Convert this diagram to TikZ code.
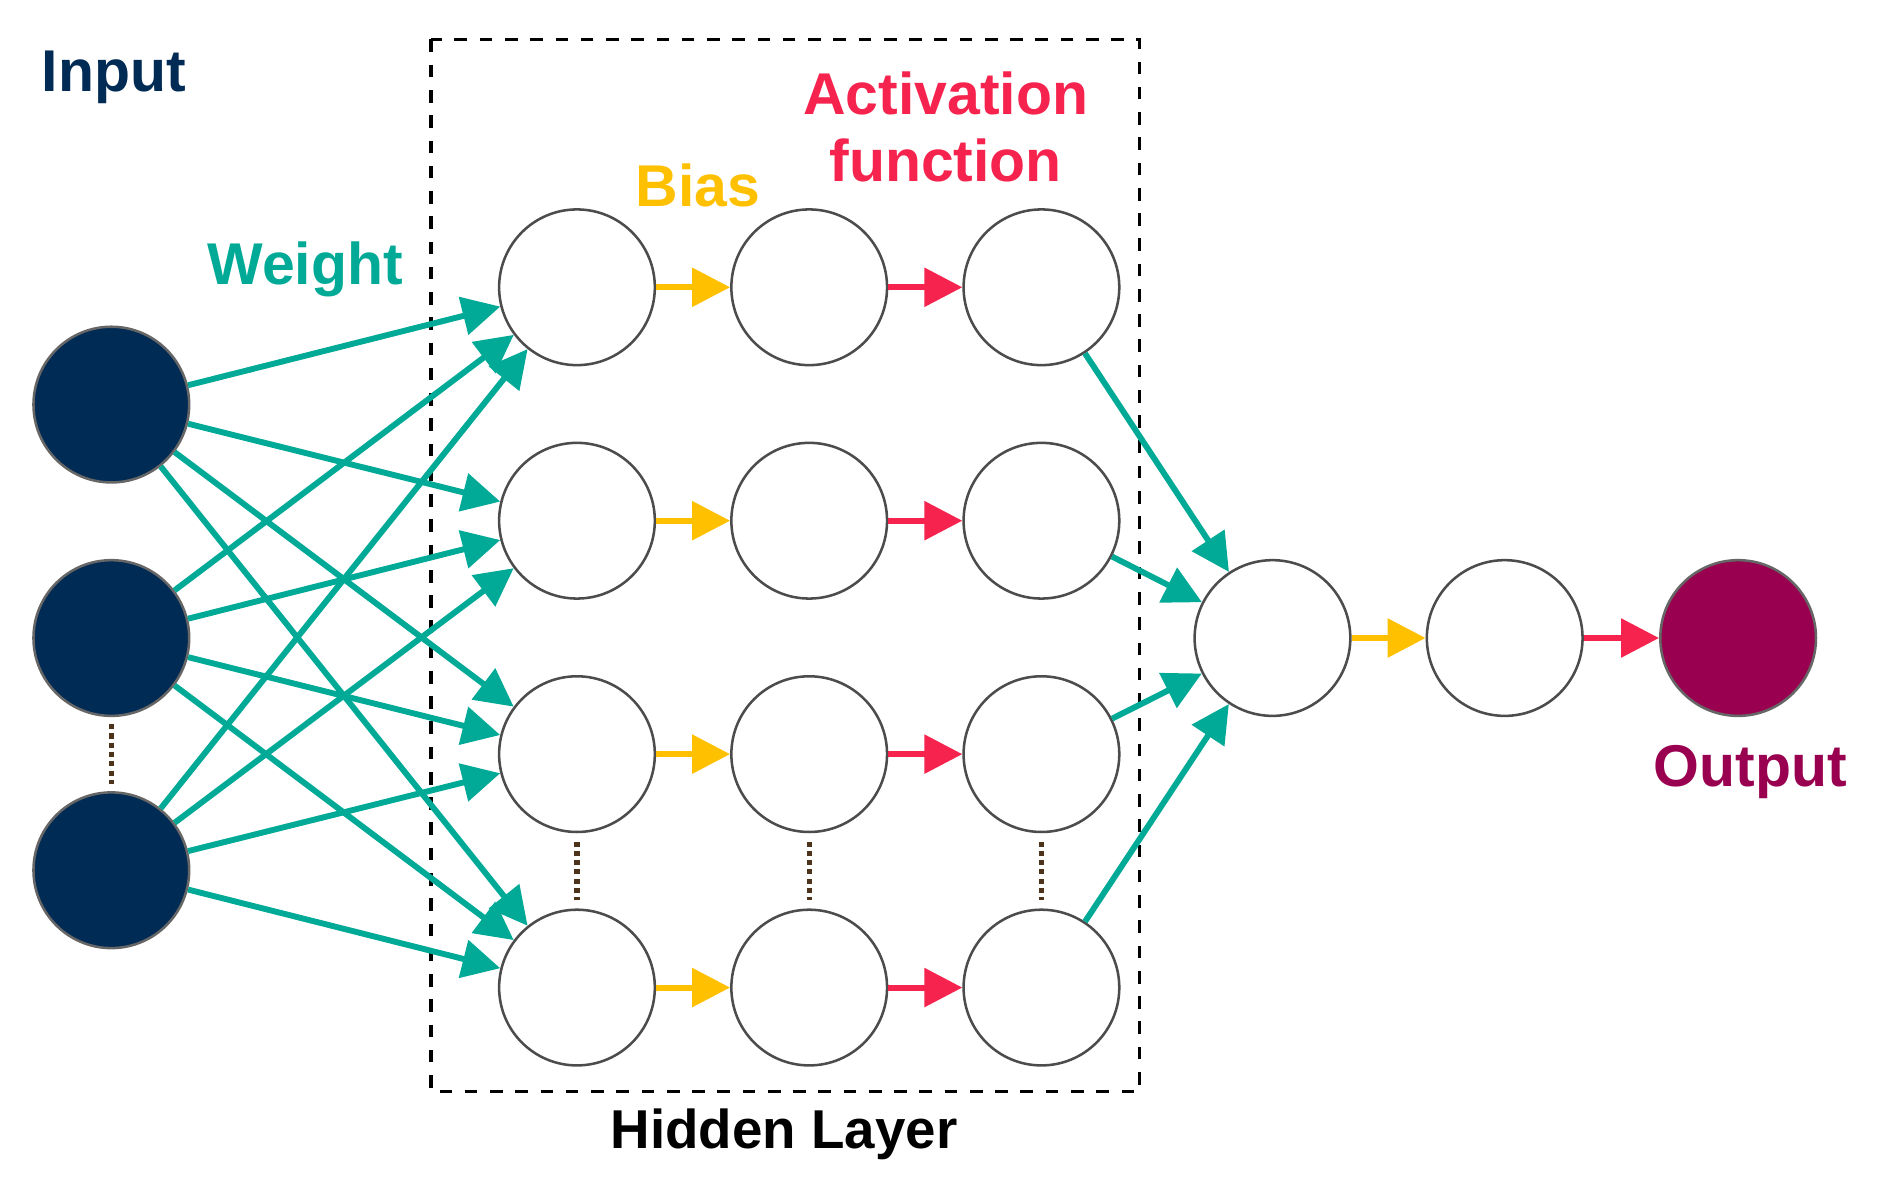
\documentclass[tikz,border=0pt]{standalone}
\usepackage{fontspec}
\setmainfont{Liberation Sans}
\usetikzlibrary{arrows.meta}
\definecolor{navy}{RGB}{0,43,85}
\definecolor{teal}{RGB}{0,170,150}
\definecolor{bias}{RGB}{255,192,0}
\definecolor{act}{RGB}{245,35,77}
\definecolor{outc}{RGB}{153,0,80}
\begin{document}
\begin{tikzpicture}[x=0.01cm,y=-0.01cm,
  neuron/.style={circle,draw=black!70,line width=0.6pt,minimum size=1.3cm,inner sep=0pt,fill=white},
  inp/.style={neuron,fill=navy,draw=black!60},
  warr/.style={teal,line width=1.4pt,-{Triangle[length=9pt,width=9pt]}},
  barr/.style={bias,line width=1.4pt,-{Triangle[length=9pt,width=9pt]}},
  aarr/.style={act,line width=1.4pt,-{Triangle[length=9pt,width=9pt]}},
  lab/.style={font=\bfseries\fontsize{14}{16}\selectfont},
  dots/.style={densely dotted,line width=1.2pt,draw=black!60!brown}]
\useasboundingbox (0,0) rectangle (1568,992);
\fill[white] (0,0) rectangle (1568,992);
\draw[dashed,line width=0.8pt] (360,33) rectangle (952,912);
\foreach \i/\y in {1/338,2/533,3/727} \node[inp] (i\i) at (93,\y) {};
\foreach \r/\y in {1/240,2/435,3/630,4/825}{
  \node[neuron] (a\r) at (482,\y) {};
  \node[neuron] (b\r) at (676,\y) {};
  \node[neuron] (c\r) at (870,\y) {};
  \draw[barr] (a\r) -- (b\r);
  \draw[aarr] (b\r) -- (c\r);
}
\node[neuron] (s) at (1063,533) {};
\node[neuron] (t) at (1257,533) {};
\node[neuron,fill=outc,draw=black!60] (o) at (1452,533) {};
\foreach \i in {1,2,3}\foreach \r in {1,2,3,4} \draw[warr] (i\i) -- (a\r);
\foreach \r in {1,2,3,4} \draw[warr] (c\r) -- (s);
\draw[barr] (s) -- (t);
\draw[aarr] (t) -- (o);
\draw[dots] (93,605) -- (93,655);
\foreach \x in {482,676,870} \draw[dots] (\x,703) -- (\x,752);
\node[lab,text=navy] (tin) at (95,65) {Input};
\node[lab,text=teal] (tw) at (255,225) {Weight};
\node[lab,text=bias] (tb) at (583,155) {Bias};
\node[lab,text=act,align=center] (ta) at (790,106) {Activation\\function};
\node[lab,text=outc] (to) at (1462,645) {Output};
\node[lab,text=black,font=\bfseries\fontsize{13}{15}\selectfont] (th) at (655,948) {Hidden Layer};
\end{tikzpicture}
\end{document}
